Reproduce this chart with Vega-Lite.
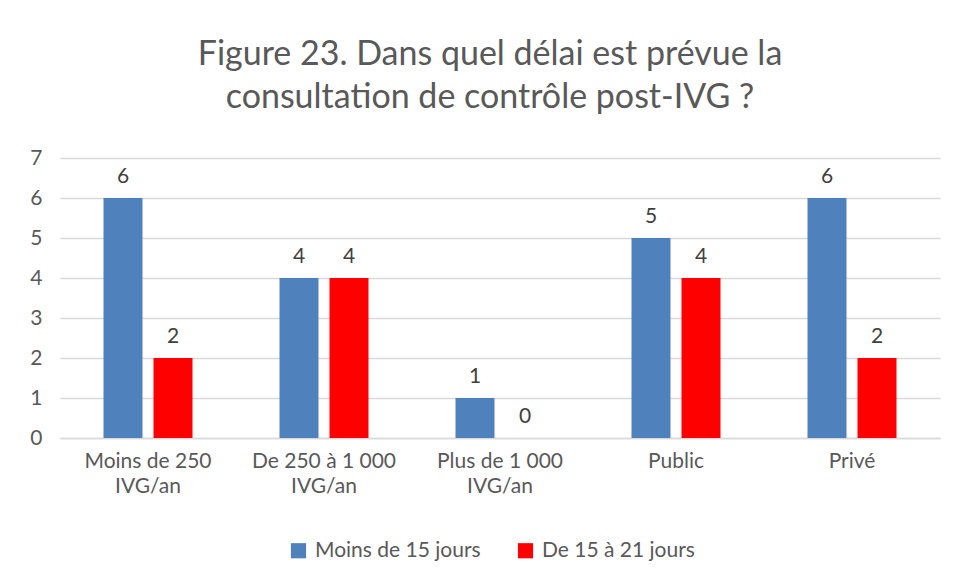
{
  "$schema": "https://vega.github.io/schema/vega-lite/v6.json",
  "autosize": {"type": "none"},
  "width": 880,
  "height": 280,
  "padding": {"left": 60, "top": 158, "right": 15, "bottom": 143},
  "background": "white",
  "config": {
    "font": "Lato",
    "view": {"stroke": null},
    "axis": {"labelColor": "#595959", "labelFont": "Lato", "labelFontSize": 21}
  },
  "title": {
    "text": ["Figure 23. Dans quel délai est prévue la", "consultation de contrôle post-IVG ?"],
    "fontSize": 34,
    "font": "Lato",
    "fontWeight": "normal",
    "color": "#595959",
    "lineHeight": 43,
    "offset": 32,
    "dx": -10
  },
  "data": {
    "values": [
      {"cat": "Moins de 250|IVG/an", "serie": "Moins de 15 jours", "v": 6},
      {"cat": "Moins de 250|IVG/an", "serie": "De 15 à 21 jours", "v": 2},
      {"cat": "De 250 à 1 000|IVG/an", "serie": "Moins de 15 jours", "v": 4},
      {"cat": "De 250 à 1 000|IVG/an", "serie": "De 15 à 21 jours", "v": 4},
      {"cat": "Plus de 1 000|IVG/an", "serie": "Moins de 15 jours", "v": 1},
      {"cat": "Plus de 1 000|IVG/an", "serie": "De 15 à 21 jours", "v": 0},
      {"cat": "Public", "serie": "Moins de 15 jours", "v": 5},
      {"cat": "Public", "serie": "De 15 à 21 jours", "v": 4},
      {"cat": "Privé", "serie": "Moins de 15 jours", "v": 6},
      {"cat": "Privé", "serie": "De 15 à 21 jours", "v": 2}
    ]
  },
  "encoding": {
    "x": {
      "field": "cat", "type": "nominal", "sort": null,
      "scale": {"paddingInner": 0, "paddingOuter": 0},
      "axis": {
        "title": null, "labelAngle": 0, "ticks": false, "domainColor": "#d9d9d9", "domainWidth": 1.5,
        "labelExpr": "split(datum.label, '|')", "labelPadding": 12, "labelLineHeight": 25
      }
    },
    "xOffset": {
      "field": "serie", "type": "nominal", "sort": ["Moins de 15 jours", "De 15 à 21 jours"],
      "scale": {"paddingInner": 0.22, "paddingOuter": 0.87}
    },
    "y": {
      "field": "v", "type": "quantitative",
      "scale": {"domain": [0, 7], "nice": false},
      "axis": {
        "title": null, "values": [0, 1, 2, 3, 4, 5, 6, 7], "labelOverlap": false, "domain": false, "ticks": false,
        "gridColor": "#d9d9d9", "gridWidth": 1.5, "labelPadding": 18
      }
    }
  },
  "layer": [
    {
      "mark": {"type": "bar"},
      "encoding": {
        "color": {
          "field": "serie", "type": "nominal", "sort": ["Moins de 15 jours", "De 15 à 21 jours"],
          "scale": {"domain": ["Moins de 15 jours", "De 15 à 21 jours"], "range": ["#4F81BD", "#FF0000"]},
          "legend": {
            "title": null, "orient": "none", "legendX": 228, "legendY": 382, "direction": "horizontal",
            "symbolType": "square", "symbolSize": 230, "symbolStrokeWidth": 0, "labelFontSize": 21,
            "labelColor": "#595959", "labelFont": "Lato", "columnPadding": 34, "labelOffset": 6,
            "labelLimit": 400
          }
        }
      }
    },
    {
      "mark": {"type": "text", "baseline": "bottom", "dy": -11, "fontSize": 21, "color": "#404040", "font": "Lato"},
      "encoding": {"text": {"field": "v", "type": "quantitative"}}
    }
  ]
}
